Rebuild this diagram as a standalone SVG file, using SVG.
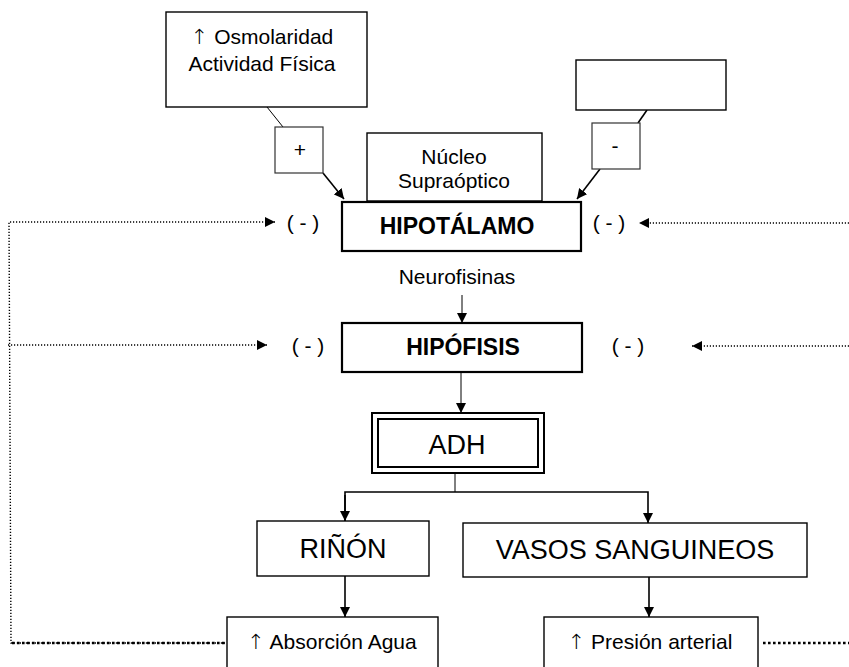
<svg xmlns="http://www.w3.org/2000/svg" width="849" height="667" viewBox="0 0 849 667">
  <style>
    text { font-family: "Liberation Sans", Arial, sans-serif; fill: #000; text-anchor: middle; }
    .t21 { font-size: 21px; }
    .bold { font-size: 23px; font-weight: bold; }
    .big { font-size: 27px; }
    .up { font-family: "DejaVu Sans", sans-serif; font-weight: 200; fill: #000; }
    .box { fill: #fff; stroke: #000; stroke-width: 1.4; }
    .boxb { fill: #fff; stroke: #000; stroke-width: 2.2; }
    .sign { fill: #fff; stroke: #333; stroke-width: 1.2; }
    .conn { fill: none; stroke: #000; stroke-width: 1.6; }
    .thin { fill: none; stroke: #000; stroke-width: 1; }
    .dot { fill: none; stroke: #000; stroke-width: 1.4; stroke-dasharray: 1.2 1.8; }
    .dotb { fill: none; stroke: #000; stroke-width: 2.6; stroke-dasharray: 2.6 2.4; }
  </style>
  <defs>
    <marker id="ah" viewBox="0 0 10 10" refX="10" refY="5" markerWidth="10" markerHeight="10" markerUnits="userSpaceOnUse" orient="auto">
      <path d="M0,0 L10,5 L0,10 Z" fill="#000"/>
    </marker>
    <marker id="ahs" viewBox="0 0 10 10" refX="10" refY="5" markerWidth="11" markerHeight="10" markerUnits="userSpaceOnUse" orient="auto">
      <path d="M0,0 L10,5 L0,10 Z" fill="#000"/>
    </marker>
  </defs>

  <!-- connectors -->
  <g id="connectors">
    <!-- stimulus boxes to hypothalamus -->
    <line class="thin" x1="267" y1="107" x2="283" y2="127"/>
    <line class="conn" x1="323" y1="173" x2="344" y2="199" marker-end="url(#ah)"/>
    <line class="conn" x1="647" y1="110" x2="638" y2="123"/>
    <line class="conn" x1="600" y1="169" x2="577" y2="199" marker-end="url(#ah)"/>
    <!-- hypothalamus to hypophysis -->
    <line class="thin" x1="462" y1="295" x2="462" y2="323" marker-end="url(#ah)"/>
    <!-- hypophysis to ADH -->
    <line class="thin" x1="461" y1="372" x2="461" y2="413" marker-end="url(#ah)"/>
    <!-- ADH split -->
    <polyline class="thin" points="455,473 455,492"/>
    <polyline class="conn" points="345,521 345,492 648,492 648,523" marker-end="url(#ah)"/>
    <line class="conn" x1="345" y1="495" x2="345" y2="521" marker-end="url(#ah)"/>
    <!-- effects -->
    <line class="conn" x1="345" y1="571" x2="345" y2="617" marker-end="url(#ah)"/>
    <line class="conn" x1="649" y1="577" x2="649" y2="617" marker-end="url(#ah)"/>
    <!-- negative feedback loops -->
    <polyline class="dot" points="225,643 11,643 9,222 275,222" marker-end="url(#ahs)"/>
    <line class="dot" x1="8" y1="345" x2="267" y2="345" marker-end="url(#ahs)"/>
    <line class="dot" x1="849" y1="223" x2="639" y2="223" marker-end="url(#ahs)"/>
    <line class="dot" x1="849" y1="346" x2="692" y2="346" marker-end="url(#ahs)"/>
    <line class="dotb" x1="12" y1="643" x2="225" y2="643"/>
    <line class="dotb" x1="763" y1="643" x2="849" y2="643"/>
  </g>

  <g id="estimulo">
    <rect class="box" x="166" y="12" width="201" height="95"/>
    <text class="t21" x="262" y="44"><tspan class="up">↑</tspan> Osmolaridad</text>
    <text class="t21" x="262" y="71">Actividad Física</text>
  </g>
  <g id="signo-mas">
    <rect class="sign" x="275" y="127" width="48" height="46"/>
    <text class="t21" x="300" y="157">+</text>
  </g>
  <g id="inhibidor">
    <rect class="box" x="576" y="60" width="150" height="50"/>
  </g>
  <g id="signo-menos">
    <rect class="sign" x="592" y="123" width="48" height="46"/>
    <text class="t21" x="615" y="153">-</text>
  </g>
  <g id="nucleo">
    <rect class="box" x="367" y="133" width="175" height="68"/>
    <text class="t21" x="454" y="164">Núcleo</text>
    <text class="t21" x="454" y="188">Supraóptico</text>
  </g>
  <g id="hipotalamo">
    <rect class="boxb" x="342" y="202" width="239" height="49"/>
    <text class="bold" x="457" y="234">HIPOTÁLAMO</text>
  </g>
  <g id="menos-hipotalamo">
    <text class="t21" x="303" y="230">( - )</text>
    <text class="t21" x="609" y="230">( - )</text>
  </g>
  <g id="neurofisinas">
    <text class="t21" x="457" y="284">Neurofisinas</text>
  </g>
  <g id="hipofisis">
    <rect class="boxb" x="342" y="323" width="240" height="49"/>
    <text class="bold" x="463" y="355">HIPÓFISIS</text>
  </g>
  <g id="menos-hipofisis">
    <text class="t21" x="308" y="353">( - )</text>
    <text class="t21" x="628" y="353">( - )</text>
  </g>
  <g id="adh">
    <rect fill="#fff" stroke="#000" stroke-width="2" x="372" y="413" width="172" height="60"/>
    <rect fill="none" stroke="#000" stroke-width="2" x="378" y="419" width="160" height="48"/>
    <text class="big" x="457" y="454">ADH</text>
  </g>
  <g id="rinon">
    <rect class="box" x="257" y="521" width="172" height="55"/>
    <text class="big" x="343" y="558">RIÑÓN</text>
  </g>
  <g id="vasos">
    <rect class="box" x="463" y="523" width="344" height="54"/>
    <text class="big" x="635" y="559">VASOS SANGUINEOS</text>
  </g>
  <g id="absorcion">
    <rect class="box" x="227" y="617" width="211" height="60"/>
    <text class="t21" x="332" y="649"><tspan class="up">↑</tspan> Absorción Agua</text>
  </g>
  <g id="presion">
    <rect class="box" x="544" y="617" width="214" height="60"/>
    <text class="t21" x="650" y="649"><tspan class="up">↑</tspan> Presión arterial</text>
  </g>
</svg>
